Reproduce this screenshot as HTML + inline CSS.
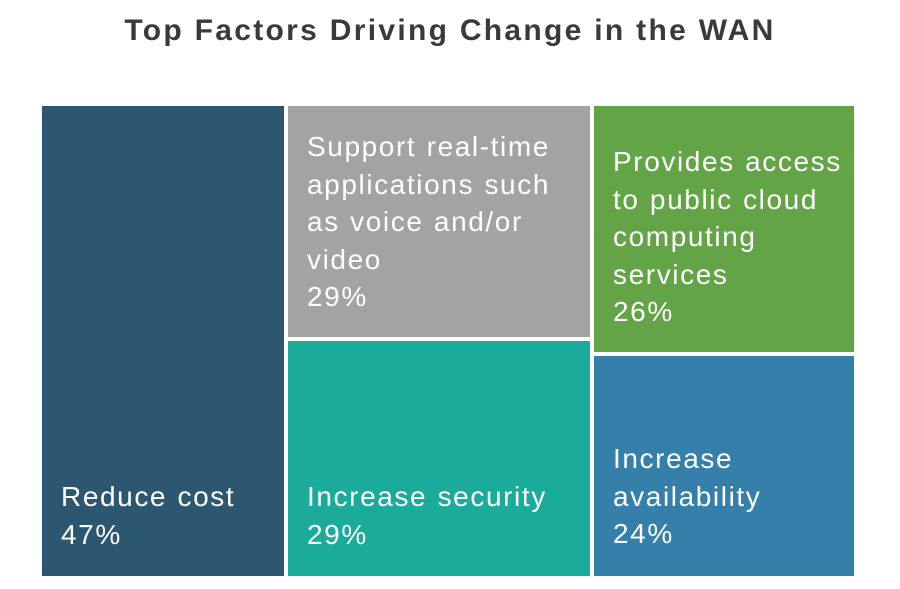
<!DOCTYPE html>
<html><head><style>
body{margin:0;width:900px;height:589px;background:#fff;position:relative;font-family:"Liberation Sans",sans-serif;overflow:hidden}
.t{position:absolute;top:14px;left:0;width:900px;text-align:center;font-size:30px;font-weight:bold;color:#3a3a3a;letter-spacing:2.3px}
.r{position:absolute;box-sizing:border-box;color:#fff;font-size:28px;line-height:37.5px;padding-left:19px;letter-spacing:1.6px;word-spacing:1px;white-space:nowrap}
</style></head><body>
<div class="t">Top Factors Driving Change in the WAN</div>
<div class="r" style="left:42px;top:106px;width:242px;height:470px;background:#2d5770;">
<div style="position:absolute;left:19px;top:372px">Reduce cost<br>47%</div></div>
<div class="r" style="left:288px;top:106px;width:302px;height:231px;background:#a3a3a3;padding-top:22px">Support real-time<br>applications such<br>as voice and/or<br>video<br>29%</div>
<div class="r" style="left:288px;top:341px;width:302px;height:235px;background:#1aab9b;">
<div style="position:absolute;left:19px;top:137px">Increase security<br>29%</div></div>
<div class="r" style="left:594px;top:106px;width:260px;height:246px;background:#62a446;padding-top:37px">Provides access<br>to public cloud<br>computing<br>services<br>26%</div>
<div class="r" style="left:594px;top:356px;width:260px;height:220px;background:#357fab;">
<div style="position:absolute;left:19px;top:84px">Increase<br>availability<br>24%</div></div>
</body></html>
